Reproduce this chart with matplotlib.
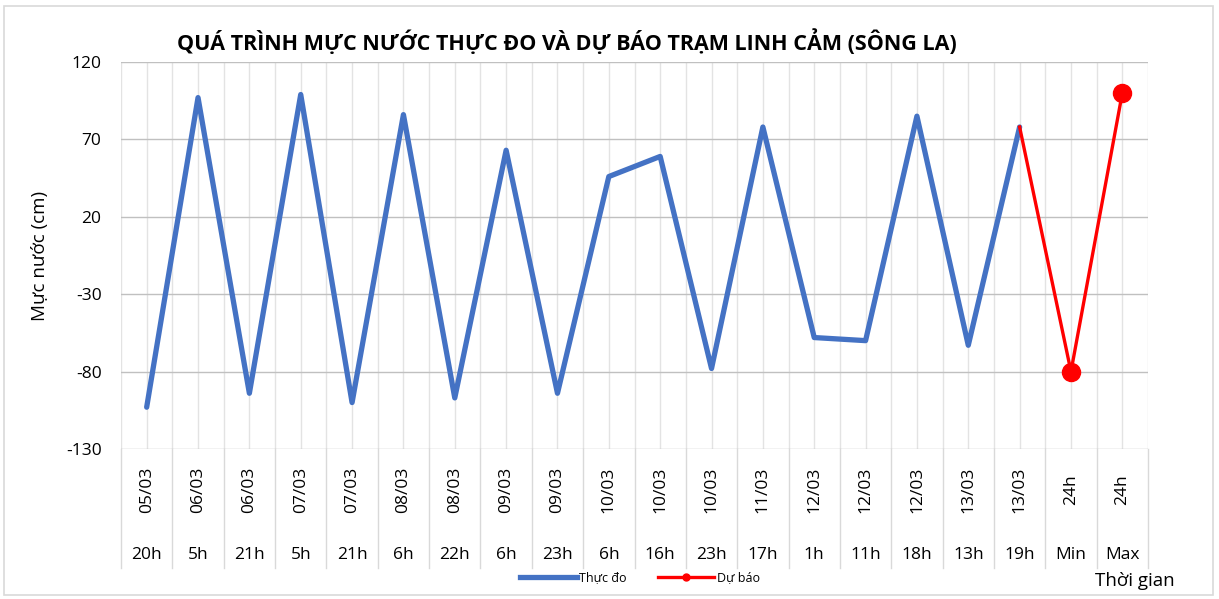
import matplotlib
matplotlib.use('Agg')
import matplotlib.pyplot as plt
from matplotlib.patches import Rectangle
from matplotlib.lines import Line2D
import matplotlib.transforms as mtransforms

plt.rcParams['font.family'] = ['Open Sans', 'DejaVu Sans']

DATES = ['05/03', '06/03', '06/03', '07/03', '07/03', '08/03', '08/03', '09/03',
         '09/03', '10/03', '10/03', '10/03', '11/03', '12/03', '12/03', '12/03',
         '13/03', '13/03', '24h', '24h']
HOURS = ['20h', '5h', '21h', '5h', '21h', '6h', '22h', '6h', '23h', '6h', '16h',
         '23h', '17h', '1h', '11h', '18h', '13h', '19h', 'Min', 'Max']
OBSERVED = [-103, 97, -94, 99, -100, 86, -97, 63, -94, 46, 59, -78, 78, -58, -60,
            85, -63, 78]
FORECAST = [78, -80, 100]   # 13/03 19h -> Min -> Max
Y_TICKS = [-130, -80, -30, 20, 70, 120]

TITLE = 'QUÁ TRÌNH MỰC NƯỚC THỰC ĐO VÀ DỰ BÁO TRẠM LINH CẢM (SÔNG LA)'

W, H = 1219, 599
fig = plt.figure(figsize=(W / 100, H / 100), dpi=100)
# chart-area frame
fig.patches.append(Rectangle((4 / W, 4 / H), 1 - 10 / W, 1 - 10 / H,
                             transform=fig.transFigure, fill=False,
                             edgecolor='#d9d9d9', lw=1.2))

left, right, top, bottom = 121, 1148, 62, 449
ax = fig.add_axes([left / W, 1 - bottom / H, (right - left) / W, (bottom - top) / H])

n = len(HOURS)
x_obs = list(range(len(OBSERVED)))
x_fc = list(range(len(OBSERVED) - 1, n))

# vertical grid at category centres and boundaries
for k in range(2 * n + 1):
    ax.axvline(-0.5 + k * 0.5, color='#e3e3e3', lw=1, zorder=0)
for y in Y_TICKS:
    ax.axhline(y, color='#c0c0c0', lw=1, zorder=0)

ax.plot(x_obs, OBSERVED, color='#4472c4', lw=3.8, solid_joinstyle='round',
        solid_capstyle='round', zorder=3)
ax.plot(x_fc, FORECAST, color='#ff0000', lw=2.4, marker='o', markersize=13,
        markevery=[1, 2], solid_joinstyle='round', zorder=4)

ax.set_xlim(-0.5, n - 0.5)
ax.set_ylim(-130, 120)
ax.set_yticks(Y_TICKS)
ax.set_yticklabels([str(v) for v in Y_TICKS], fontsize=12.5)
ax.set_xticks([])
ax.tick_params(axis='y', length=0, pad=14)
for s in ax.spines.values():
    s.set_visible(False)

# two-level category labels
trans = mtransforms.blended_transform_factory(ax.transData, ax.transAxes)
for i in range(n):
    ax.text(i, -0.105, DATES[i], rotation=90, ha='center', va='center',
            fontsize=12.5, transform=trans)
    ax.text(i, -0.274, HOURS[i], ha='center', va='center', fontsize=12.5,
            transform=trans)
for k in range(n + 1):
    ax.add_line(Line2D([k - 0.5, k - 0.5], [0, -0.307], transform=trans,
                       color='#d9d9d9', lw=1, clip_on=False))

ax.set_ylabel('Mực nước (cm)', fontsize=13.5)
ax.yaxis.set_label_coords(-0.07, 0.5)

fig.text(567 / W, 1 - 42 / H, TITLE, ha='center', va='center',
         fontsize=15.5, fontweight='bold')
fig.text(1135 / W, 1 - 581 / H, 'Thời gian', ha='center', va='center', fontsize=13.5)

handles = [Line2D([], [], color='#4472c4', lw=3.8),
           Line2D([], [], color='#ff0000', lw=2.4, marker='o', markersize=5)]
fig.legend(handles, ['Thực đo', 'Dự báo'], loc='center', ncol=2,
           bbox_to_anchor=(640 / W, 1 - 578 / H), frameon=False, fontsize=9,
           handlelength=4.5, handletextpad=0.2, columnspacing=2.5)

fig.savefig('out.png', dpi=100)
